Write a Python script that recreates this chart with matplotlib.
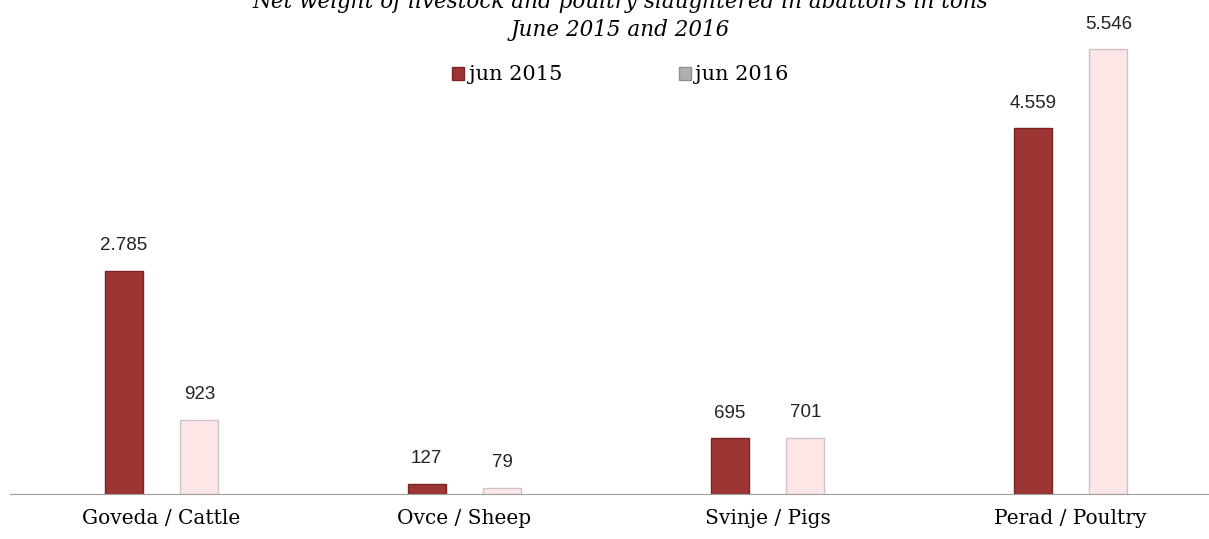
import numpy as np
import matplotlib.pyplot as plt
from matplotlib.patches import Patch

categories = ['Goveda / Cattle', 'Ovce / Sheep', 'Svinje / Pigs', 'Perad / Poultry']
jun_2015 = [2785, 127, 695, 4559]
jun_2016 = [923, 79, 701, 5546]
series_names = ['jun 2015', 'jun 2016']


def fmt(v):
    # thousands separator is a period
    return f'{v:,}'.replace(',', '.')


fig = plt.figure(figsize=(12.09, 5.39), dpi=100)
# axes runs a bit past the right edge, like the original
ax = fig.add_axes([10 / 1209, 45 / 539, 1212 / 1209, 449 / 539])

x = np.arange(len(categories))
w = 0.125
c15 = '#9e3535'
c16 = '#fde6e6'

b1 = ax.bar(x - w, jun_2015, width=w, color=c15, edgecolor='#7a2424', linewidth=1.0)
b2 = ax.bar(x + w, jun_2016, width=w, color=c16, edgecolor='#cfc3c3', linewidth=1.0)

for bars, vals in [(b1, jun_2015), (b2, jun_2016)]:
    for r, v in zip(bars, vals):
        ax.annotate(fmt(v), (r.get_x() + r.get_width() / 2, v), xytext=(0, 12),
                    textcoords='offset points', ha='center', va='bottom',
                    fontsize=13.5, family='Liberation Sans', color='#222222')

ax.set_xlim(-0.5, 3.5)
ax.set_ylim(0, 5600)
ax.set_yticks([])
ax.set_xticks(x)
ax.set_xticklabels(categories, family='DejaVu Serif', fontsize=14.5)
ax.tick_params(axis='x', length=0, pad=11)
for s in ['top', 'right', 'left']:
    ax.spines[s].set_visible(False)
ax.spines['bottom'].set_color('#a0a0a0')

fig.text(0.513, 1.0 - 2 / 539, 'Net weight of livestock and poultry slaughtered in abattoirs in tons',
         ha='center', va='center', fontsize=15.5, style='italic', family='DejaVu Serif')
fig.text(0.513, 1 - 30 / 539, 'June 2015 and 2016', ha='center', va='center',
         fontsize=15.5, style='italic', family='DejaVu Serif')

handles = [Patch(facecolor=c15, edgecolor='#7a2424'),
           Patch(facecolor='#b0b0b0', edgecolor='#909090')]
fig.legend(handles, series_names, loc='center', bbox_to_anchor=(0.513, 1 - 75 / 539),
           ncol=2, frameon=False, prop={'family': 'DejaVu Serif', 'size': 15},
           handlelength=0.6, handleheight=0.6, handletextpad=0.2, columnspacing=5.6)

fig.savefig('out.png', dpi=100)
